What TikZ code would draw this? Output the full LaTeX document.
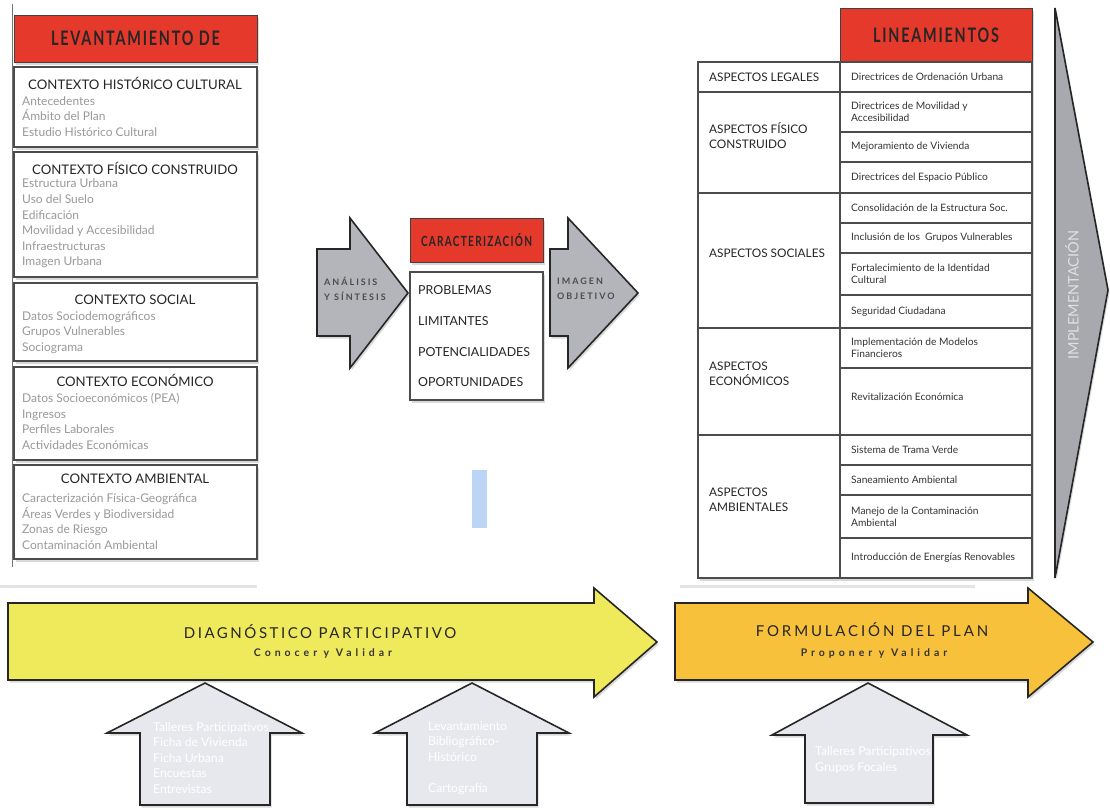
\documentclass[tikz,border=0pt]{standalone}
\usepackage{fontspec}
\setmainfont{Lato}
\newfontfamily\headfont[FakeStretch=0.72,LetterSpace=9]{Lato}
\newfontfamily\spacedfont[LetterSpace=17]{Lato}
\newfontfamily\widefont[LetterSpace=38]{Lato}
\usetikzlibrary{shadows}
\definecolor{headred}{HTML}{E5392C}
\definecolor{diagyellow}{HTML}{EFEA5C}
\definecolor{formorange}{HTML}{F8C13C}
\definecolor{arrowgrey}{HTML}{B4B5BA}
\definecolor{inputgrey}{HTML}{E6E8EE}
\definecolor{implgrey}{HTML}{A8A9AE}
\definecolor{markblue}{HTML}{BCD4F6}
\tikzset{
  softshadow/.style={drop shadow={shadow xshift=1.5pt, shadow yshift=-2.5pt, opacity=0.3}},
  redhead/.style={draw=black!75, fill=headred, line width=0.8pt, inner sep=0pt, text=black!85, softshadow},
  ctxbox/.style={draw=black!70, fill=white, line width=1.1pt, softshadow},
  ctxtitle/.style={inner sep=0pt, text=black!85, font=\fontsize{13.2}{15}\selectfont},
  ctxitem/.style={anchor=west, align=left, inner sep=0pt, text=black!40, font=\fontsize{12}{15.6}\selectfont},
  bigarrow/.style={draw=black!85, line width=1.6pt, line join=miter, softshadow},
  aspect/.style={anchor=west, align=left, inner sep=0pt, text=black!85, font=\fontsize{11.8}{15}\selectfont},
  lineam/.style={anchor=west, align=left, inner sep=0pt, text=black!80, font=\fontsize{10.2}{12.5}\selectfont},
  chartext/.style={anchor=west, inner sep=0pt, text=black!85, font=\fontsize{12.4}{14}\selectfont},
  arrowlabel/.style={anchor=west, align=left, inner sep=0pt, text=black!70, font=\widefont\bfseries\addfontfeature{LetterSpace=22}\fontsize{9}{15}\selectfont},
  inputtext/.style={anchor=west, align=left, inner sep=0pt, text=white, font=\fontsize{12.2}{15.5}\selectfont}
}
\begin{document}
\begin{tikzpicture}[x=1pt, y=-1pt]
  \useasboundingbox (0,0) rectangle (1110,809);

  \draw [black!55, line width=0.6pt] (12,4) -- (12,567);
  \draw [black!10, line width=3pt] (0,586) -- (257,586);
  \draw [black!10, line width=3pt] (680,586) -- (975,586);

  \node [redhead, minimum width=243, minimum height=47, font=\headfont\bfseries\fontsize{20}{22}\selectfont] (levant) at (135.5,38.5) {LEVANTAMIENTO DE};

  \draw [ctxbox] (14,67) rectangle (257,147);
  \node [ctxtitle] (hist) at (135,83) {CONTEXTO HISTÓRICO CULTURAL};
  \node [ctxitem] (histitems) at (22,116.5) {Antecedentes\\Ámbito del Plan\\Estudio Histórico Cultural};

  \draw [ctxbox] (14,152) rectangle (257,277);
  \node [ctxtitle] (fis) at (135,168) {CONTEXTO FÍSICO CONSTRUIDO};
  \node [ctxitem] (fisitems) at (22,223.5) {Estructura Urbana\\Uso del Suelo\\Edificación\\Movilidad y Accesibilidad\\Infraestructuras\\Imagen Urbana};

  \draw [ctxbox] (14,283) rectangle (257,361);
  \node [ctxtitle] (soc) at (135,300) {CONTEXTO SOCIAL};
  \node [ctxitem] (socitems) at (22,332.5) {Datos Sociodemográficos\\Grupos Vulnerables\\Sociograma};

  \draw [ctxbox] (14,367) rectangle (257,460);
  \node [ctxtitle] (eco) at (135,380) {CONTEXTO ECONÓMICO};
  \node [ctxitem] (ecoitems) at (22,421.5) {Datos Socioeconómicos (PEA)\\Ingresos\\Perfiles Laborales\\Actividades Económicas};

  \draw [ctxbox] (14,465) rectangle (257,559);
  \node [ctxtitle] (amb) at (135,479) {CONTEXTO AMBIENTAL};
  \node [ctxitem] (ambitems) at (22,521.5) {Caracterización Física-Geográfica\\Áreas Verdes y Biodiversidad\\Zonas de Riesgo\\Contaminación Ambiental};

  \draw [bigarrow, fill=arrowgrey] (317,249) -- (350,249) -- (350,218) -- (408,293) -- (350,368) -- (350,336) -- (317,336) -- cycle;
  \node [arrowlabel] (analisis) at (324,289) {ANÁLISIS\\Y SÍNTESIS};

  \node [redhead, minimum width=133, minimum height=44, font=\headfont\bfseries\fontsize{14}{16}\selectfont] (caract) at (476.5,240) {CARACTERIZACIÓN};
  \draw [ctxbox] (410,272) rectangle (543,400);
  \node [chartext] (prob) at (418,290) {PROBLEMAS};
  \node [chartext] (limit) at (418,321) {LIMITANTES};
  \node [chartext] (poten) at (418,352) {POTENCIALIDADES};
  \node [chartext] (oport) at (418,382) {OPORTUNIDADES};

  \draw [bigarrow, fill=arrowgrey] (550,249) -- (568,249) -- (568,218) -- (638,293) -- (568,368) -- (568,336) -- (550,336) -- cycle;
  \node [arrowlabel] (imagen) at (557,289) {IMAGEN\\OBJETIVO};

  \fill [markblue] (472,470) rectangle (487,528);

  \node [redhead, minimum width=192, minimum height=54, font=\headfont\bfseries\fontsize{20}{22}\selectfont] (lin) at (936,35) {LINEAMIENTOS};
  \draw [black!70, line width=1.1pt, fill=white, softshadow] (698,62) rectangle (1032,578);
  \draw [black!70, line width=1.1pt] (840,62) -- (840,578)
        (698,92) -- (1032,92) (698,193) -- (1032,193) (698,328) -- (1032,328) (698,435) -- (1032,435);
  \draw [black!70, line width=1.1pt] (840,132) -- (1032,132) (840,162) -- (1032,162)
        (840,223) -- (1032,223) (840,253) -- (1032,253) (840,295) -- (1032,295)
        (840,368) -- (1032,368) (840,465) -- (1032,465) (840,495) -- (1032,495) (840,538) -- (1032,538);

  \node [aspect] (legal) at (709,77) {ASPECTOS LEGALES};
  \node [aspect] (fisico) at (709,136) {ASPECTOS FÍSICO\\CONSTRUIDO};
  \node [aspect] (social) at (709,253) {ASPECTOS SOCIALES};
  \node [aspect] (economico) at (709,374) {ASPECTOS\\ECONÓMICOS};
  \node [aspect] (ambiental) at (709,500) {ASPECTOS\\AMBIENTALES};

  \node [lineam] (dou) at (851,77) {Directrices de Ordenación Urbana};
  \node [lineam] (dma) at (851,112) {Directrices de Movilidad y\\Accesibilidad};
  \node [lineam] (mv) at (851,147) {Mejoramiento de Vivienda};
  \node [lineam] (dep) at (851,178) {Directrices del Espacio Público};
  \node [lineam] (ces) at (851,208) {Consolidación de la Estructura Soc.};
  \node [lineam] (igv) at (851,238) {Inclusión de los~ Grupos Vulnerables};
  \node [lineam] (fic) at (851,274) {Fortalecimiento de la Identidad\\Cultural};
  \node [lineam] (sc) at (851,312) {Seguridad Ciudadana};
  \node [lineam] (imf) at (851,348) {Implementación de Modelos\\Financieros};
  \node [lineam] (re) at (851,397) {Revitalización Económica};
  \node [lineam] (stv) at (851,450) {Sistema de Trama Verde};
  \node [lineam] (sa) at (851,480) {Saneamiento Ambiental};
  \node [lineam] (mca) at (851,517) {Manejo de la Contaminación\\Ambiental};
  \node [lineam] (ier) at (851,558) {Introducción de Energías Renovables};

  \draw [bigarrow, fill=implgrey] (1055,8) -- (1108,290) -- (1055,578) -- cycle;
  \node [rotate=90, inner sep=0pt, text=white!88!black, font=\fontsize{14.5}{16}\selectfont] (impl) at (1072,295) {IMPLEMENTACIÓN};

  \draw [bigarrow, fill=inputgrey] (140,805) -- (140,733) -- (107,733) -- (205,683) -- (302,733) -- (270,733) -- (270,805) -- cycle;
  \node [inputtext] (tecdiag) at (153,758) {Talleres Participativos\\Ficha de Vivienda\\Ficha Urbana\\Encuestas\\Entrevistas};
  \draw [bigarrow, fill=inputgrey] (407,805) -- (407,733) -- (375,733) -- (472,683) -- (569,733) -- (537,733) -- (537,805) -- cycle;
  \node [inputtext] (tecbib) at (428,758) {Levantamiento\\Bibliográfico-\\Histórico\\[15.5pt]Cartografía};
  \draw [bigarrow, fill=inputgrey] (805,803) -- (805,735) -- (772,735) -- (868,683) -- (967,735) -- (933,735) -- (933,803) -- cycle;
  \node [inputtext] (tecform) at (815,760) {Talleres Participativos\\Grupos Focales};

  \draw [bigarrow, fill=diagyellow] (8,603) -- (594,603) -- (594,588) -- (657,642) -- (594,697) -- (594,680) -- (8,680) -- cycle;
  \node [inner sep=0pt, text=black!85, font=\spacedfont\fontsize{15}{17}\selectfont] (diag) at (320,632) {DIAGNÓSTICO PARTICIPATIVO};
  \node [inner sep=0pt, text=black!80, font=\widefont\bfseries\fontsize{10.5}{12}\selectfont] (conocer) at (323,653) {Conocer y Validar};

  \draw [bigarrow, fill=formorange] (675,603) -- (1028,603) -- (1028,588) -- (1093,642) -- (1028,697) -- (1028,680) -- (675,680) -- cycle;
  \node [inner sep=0pt, text=black!85, font=\spacedfont\addfontfeature{LetterSpace=19}\fontsize{15}{17}\selectfont] (formul) at (872,630) {FORMULACIÓN DEL PLAN};
  \node [inner sep=0pt, text=black!80, font=\widefont\bfseries\fontsize{10.5}{12}\selectfont] (proponer) at (874,653) {Proponer y Validar};
\end{tikzpicture}
\end{document}
